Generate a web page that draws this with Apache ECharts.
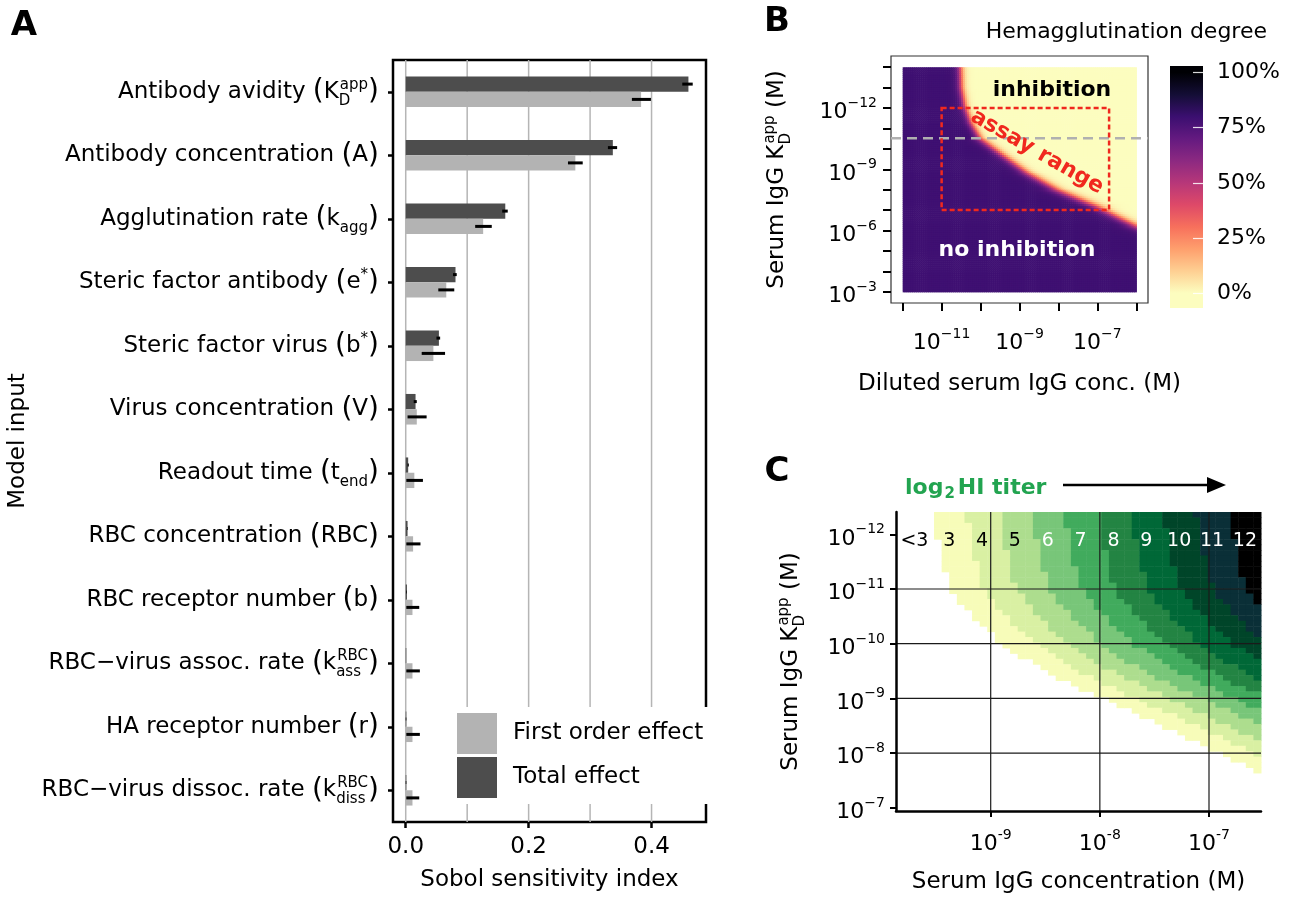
<!DOCTYPE html>
<html>
<head>
<meta charset="utf-8">
<title>Sobol sensitivity and hemagglutination inhibition</title>
<script src="https://cdn.jsdelivr.net/npm/echarts@6.0.0/dist/echarts.min.js"></script>
<style>
html,body{margin:0;padding:0;background:#fff;}
#chart{width:1301px;height:899px;}
</style>
</head>
<body>
<div id="chart"></div>
<script>
const FONT = 'DejaVu Sans';

// ---------------- Panel A: Sobol sensitivity indices ----------------
const categories = ['Antibody avidity', 'Antibody concentration', 'Agglutination rate', 'Steric factor antibody',
  'Steric factor virus', 'Virus concentration', 'Readout time', 'RBC concentration', 'RBC receptor number',
  'RBC\u2212virus assoc. rate', 'HA receptor number', 'RBC\u2212virus dissoc. rate'];
const symbolBase = ['K', 'A', 'k', 'e', 'b', 'V', 't', 'RBC', 'b', 'k', 'r', 'k'];
const symbolSub  = ['D', '', 'agg', '', '', '', 'end', '', '', 'ass', '', 'diss'];
const symbolSup  = ['app', '', '', '*', '*', '', '', '', '', 'RBC', '', 'RBC'];
const firstOrder    = [0.383, 0.276, 0.126, 0.066, 0.045, 0.018, 0.014, 0.012, 0.011, 0.011, 0.011, 0.011];
const firstOrderLo  = [0.368, 0.264, 0.113, 0.053, 0.026, 0.003, 0.001, 0.001, 0.001, 0.001, 0.001, 0.001];
const firstOrderHi  = [0.399, 0.288, 0.140, 0.079, 0.064, 0.034, 0.028, 0.024, 0.022, 0.023, 0.023, 0.022];
const totalEffect   = [0.460, 0.337, 0.162, 0.081, 0.054, 0.016, 0.004, 0.003, 0.002, 0.001, 0.001, 0.001];
const totalEffectLo = [0.450, 0.329, 0.157, 0.077, 0.050, 0.013, 0.003, 0.002, 0.001, 0.001, 0.000, 0.000];
const totalEffectHi = [0.467, 0.344, 0.166, 0.083, 0.056, 0.018, 0.005, 0.003, 0.002, 0.001, 0.001, 0.001];
const sobolGridValues = [0, 0.1, 0.2, 0.3, 0.4];
const sobolTickValues = [0, 0.2, 0.4];

// ---------------- Panel B: hemagglutination degree map ----------------
// 50 % contour: log10 Kd(app) [M] -> log10 diluted serum IgG conc [M]
const hemaKDLog10       = [-14, -13, -12.1, -11.3, -10.5, -9.65, -8.83, -8.0, -7.18, -6.53, -6.2, -5.9];
const hemaHalfConcLog10 = [-10.52, -10.5, -10.41, -10.26, -10.01, -9.41, -8.82, -8.05, -7.03, -6.36, -6.0, -5.6];
const hemaNoInhibition = 79;            // % hemagglutination left of the contour
const assayRangeConc = [1e-11, 2e-7];   // M
const assayRangeKD   = [1e-12, 1e-7];   // M
const referenceKD    = 3e-11;           // M (dashed grey line)
const bConcTickExp   = [-12, -11, -10, -9, -8, -7, -6];
const bConcLabelExp  = [-11, -9, -7];
const bKDTickExp     = [-14, -13, -12, -11, -10, -9, -8, -7, -6, -5, -4, -3];
const bKDLabelExp    = [-12, -9, -6, -3];
const hemaTicks      = [0, 25, 50, 75, 100];
const magmaReversed  = ['#fcfdbf', '#fecf92', '#fe9f6d', '#f7705c', '#de4968', '#b73779', '#8c2981', '#641a80', '#3b0f70', '#140e36', '#000004'];

// ---------------- Panel C: log2 HI titer map ----------------
const titerLabels = ['<3', '3', '4', '5', '6', '7', '8', '9', '10', '11', '12'];
const titerLevels = [3, 4, 5, 6, 7, 8, 9, 10, 11, 12];
const titerColors = ['#f7fcb9', '#d9f0a3', '#addd8e', '#78c679', '#41ab5d', '#238443', '#006837', '#004529', '#0a2f37', '#000000'];
// onset of titer 3: log10 Kd(app) [M] -> log10 serum IgG conc [M]
const titerKDLog10     = [-12.4, -11.5, -11, -10.62, -10.32, -10, -9.7, -9.39, -9, -8.5, -8, -7.65, -7];
const titer3ConcLog10  = [-9.53, -9.44, -9.37, -9.22, -9.07, -8.90, -8.67, -8.40, -7.97, -7.43, -6.90, -6.52, -5.80];
const titerStepLog10   = 0.301;   // one two-fold dilution
const cConcTickExp = [-9, -8, -7];
const cKDTickExp   = [-12, -11, -10, -9, -8, -7];
const cGridConcExp = [-9, -8, -7];
const cGridKDExp   = [-11, -10, -9, -8];

// ---------------- helpers ----------------
function interp(xs, ys, v) {
  const n = xs.length;
  if (v <= xs[0]) return ys[0] + (v - xs[0]) * (ys[1] - ys[0]) / (xs[1] - xs[0]);
  for (let i = 1; i < n; i++) {
    if (v <= xs[i]) { const t = (v - xs[i - 1]) / (xs[i] - xs[i - 1]); return ys[i - 1] + t * (ys[i] - ys[i - 1]); }
  }
  return ys[n - 1] + (v - xs[n - 1]) * (ys[n - 1] - ys[n - 2]) / (xs[n - 1] - xs[n - 2]);
}

// axis ranges (log10 units)
const bX = [-12.3, -5.7], bY = [-14.55, -2.45];
const cX = [-9.8676, -6.5236], cY = [-12.408, -6.94];
const cbRange = [-6.8, 103];

// Panel B cells
const dxB = 0.05, dyB = 0.1;
const bCells = [];
for (let yi = 0; yi < 110; yi++) {
  const y = -14 + dyB * (yi + 0.5);
  const bx = interp(hemaKDLog10, hemaHalfConcLog10, y);
  const slope = (interp(hemaKDLog10, hemaHalfConcLog10, y + 0.05) - interp(hemaKDLog10, hemaHalfConcLog10, y - 0.05)) / 0.1;
  const sp = slope * (257 / 6.6) / (247 / 12.1);
  const w = 0.055 * Math.sqrt(1 + sp * sp);
  for (let xi = 0; xi < 120; xi++) {
    const x = -12 + dxB * (xi + 0.5);
    bCells.push([x, y, hemaNoInhibition / (1 + Math.exp((x - bx) / w))]);
  }
}

// Panel C cells
const nCx = 48, nCy = 55;
const dxC = (cX[1] - cX[0]) / nCx, dyC = (cY[1] - cY[0]) / nCy;
const cCells = [];
for (let yi = 0; yi < nCy; yi++) {
  const y = cY[0] + dyC * (yi + 0.5);
  const c3 = interp(titerKDLog10, titer3ConcLog10, y);
  for (let xi = 0; xi < nCx; xi++) {
    const x = cX[0] + dxC * (xi + 0.5);
    if (x < c3) continue;
    const lvl = Math.min(12, 3 + Math.floor((x - c3) / titerStepLog10));
    cCells.push([x, y, lvl]);
  }
}
const c3Top = interp(titerKDLog10, titer3ConcLog10, cY[0]);
const titerLabelY = -11.88;
const titerLabelData = titerLabels.map((t, i) => i === 0
  ? [(cX[0] + c3Top) / 2, titerLabelY, 0]
  : [c3Top + (i - 0.5) * titerStepLog10, titerLabelY, i]);

// Panel A error bars (total effect bar above, first order bar below the tick)
const BAR_W = 15.3;
const errData = [];
categories.forEach((c, i) => {
  errData.push([i, firstOrderLo[i], firstOrderHi[i], 1]);
  errData.push([i, totalEffectLo[i], totalEffectHi[i], -1]);
});

// ---------------- text styles ----------------
function catLabel(i) {
  let s = '{t|' + categories[i] + ' }{p|(}{t|' + symbolBase[i] + '}';
  if (symbolSub[i] && symbolSup[i]) s += '{sbz|' + symbolSub[i] + '}{sp|' + symbolSup[i] + '}';
  else if (symbolSub[i]) s += '{sb|' + symbolSub[i] + '}';
  else if (symbolSup[i]) s += '{sp|' + symbolSup[i] + '}';
  return s + '{p|)}';
}
const catRich = {
  t:   {fontSize: 23, fontFamily: FONT, color: '#000', align: 'left'},
  p:   {fontSize: 28, fontFamily: FONT, color: '#000', align: 'left'},
  sb:  {fontSize: 15, fontFamily: FONT, color: '#000', align: 'left', padding: [18, 0, 0, 0]},
  sbz: {fontSize: 15, fontFamily: FONT, color: '#000', align: 'left', padding: [18, 0, 0, 0], width: 1},
  sp:  {fontSize: 15, fontFamily: FONT, color: '#000', align: 'left', padding: [0, 0, 14, 0]}
};
const expRich = {
  b: {fontSize: 22, fontFamily: FONT, color: '#000', padding: [9, 0, 0, 0]},
  s: {fontSize: 14, fontFamily: FONT, color: '#000', padding: [0, 0, 9, 0]}
};
const expFmt = (minus) => (v) => '{b|10}{s|' + (v < 0 ? minus : '') + Math.abs(Math.round(v)) + '}';
const kdName = '{t|Serum IgG K}{sbz|D}{sp|app}{t| (M)}';
const nameStyle = {fontSize: 23, fontFamily: FONT, color: '#000'};
const kdNameStyle = {fontSize: 23, fontFamily: FONT, color: '#000', rich: catRich};

const blackTick = (len, w) => ({show: true, length: len, lineStyle: {color: '#000', width: w}});

const option = {
  animation: false,
  backgroundColor: '#fff',
  textStyle: {fontFamily: FONT, color: '#000'},
  grid: [
    {left: 393, top: 60, width: 313, height: 762, show: true, borderColor: '#000', borderWidth: 2.5, backgroundColor: 'rgba(0,0,0,0)', containLabel: false, outerBoundsMode: 'none'},
    {left: 891, top: 56, width: 257, height: 247, show: true, borderColor: '#333', borderWidth: 1.2, backgroundColor: 'rgba(0,0,0,0)', containLabel: false, outerBoundsMode: 'none'},
    {left: 1170, top: 66, width: 33, height: 242, show: false, containLabel: false, outerBoundsMode: 'none'},
    {left: 896, top: 512, width: 365, height: 299, show: false, containLabel: false, outerBoundsMode: 'none'}
  ],
  xAxis: [
    {gridIndex: 0, type: 'value', min: -0.0207, max: 0.4886,
      axisLine: {show: false, onZero: false}, splitLine: {show: false},
      axisTick: Object.assign(blackTick(6, 2.5), {customValues: sobolTickValues}),
      axisLabel: {customValues: sobolTickValues, formatter: v => v.toFixed(1), fontSize: 23, fontFamily: FONT, color: '#000', margin: 14},
      name: 'Sobol sensitivity index', nameLocation: 'middle', nameGap: 47, nameTextStyle: nameStyle},
    {gridIndex: 1, type: 'value', min: bX[0], max: bX[1],
      axisLine: {show: false, onZero: false}, splitLine: {show: false},
      axisTick: Object.assign(blackTick(8, 2), {customValues: bConcTickExp}),
      axisLabel: {customValues: bConcLabelExp, formatter: expFmt('\u2212'), rich: expRich, margin: 20},
      name: 'Diluted serum IgG conc. (M)', nameLocation: 'middle', nameGap: 70, nameTextStyle: nameStyle},
    {gridIndex: 2, type: 'value', min: 0, max: 1, show: false},
    {gridIndex: 3, type: 'value', min: cX[0], max: cX[1], z: 10,
      axisLine: {show: true, onZero: false, lineStyle: {color: '#000', width: 2.5}}, splitLine: {show: false},
      axisTick: Object.assign(blackTick(6, 2), {customValues: cConcTickExp}),
      axisLabel: {customValues: cConcTickExp, formatter: expFmt('-'), rich: expRich, margin: 13},
      name: 'Serum IgG concentration (M)', nameLocation: 'middle', nameGap: 60, nameTextStyle: nameStyle}
  ],
  yAxis: [
    {gridIndex: 0, type: 'category', data: categories, inverse: true,
      axisLine: {show: false, onZero: false},
      axisTick: Object.assign(blackTick(5, 2.5), {alignWithLabel: true, interval: 0}),
      axisLabel: {interval: 0, margin: 14, formatter: (v, i) => catLabel(i), rich: catRich},
      name: 'Model input', nameLocation: 'middle', nameRotate: 90, nameGap: 363, nameTextStyle: nameStyle},
    {gridIndex: 1, type: 'value', inverse: true, min: bY[0], max: bY[1],
      axisLine: {show: false, onZero: false}, splitLine: {show: false},
      axisTick: Object.assign(blackTick(8, 2), {customValues: bKDTickExp}),
      axisLabel: {customValues: bKDLabelExp, formatter: expFmt('\u2212'), rich: expRich, margin: 14},
      name: kdName, nameLocation: 'middle', nameRotate: 90, nameGap: 97, nameTextStyle: kdNameStyle},
    {gridIndex: 2, type: 'value', position: 'right', min: cbRange[0], max: cbRange[1], z: 10,
      axisLine: {show: false, onZero: false}, splitLine: {show: false},
      axisTick: {show: true, inside: true, length: 10, customValues: hemaTicks, lineStyle: {color: 'rgba(255,255,255,0.85)', width: 1.2}},
      axisLabel: {customValues: hemaTicks, formatter: '{value}%', fontSize: 22, fontFamily: FONT, color: '#000', margin: 14}},
    {gridIndex: 3, type: 'value', inverse: true, min: cY[0], max: cY[1], z: 10,
      axisLine: {show: true, onZero: false, lineStyle: {color: '#000', width: 2.5}}, splitLine: {show: false},
      axisTick: Object.assign(blackTick(6, 2), {customValues: cKDTickExp}),
      axisLabel: {customValues: cKDTickExp, formatter: expFmt('\u2212'), rich: expRich, margin: 11},
      name: kdName, nameLocation: 'middle', nameRotate: 90, nameGap: 88, nameTextStyle: kdNameStyle}
  ],
  visualMap: [
    {type: 'continuous', show: false, seriesIndex: 4, dimension: 2, min: 0, max: 100, inRange: {color: magmaReversed}},
    {type: 'piecewise', show: false, seriesIndex: 8, dimension: 2,
      pieces: titerLevels.map((lv, i) => ({value: lv, color: titerColors[i]}))}
  ],
  legend: {
    data: ['First order effect', 'Total effect'], orient: 'vertical', left: 452, top: 707,
    itemWidth: 40, itemHeight: 41, itemGap: 3, icon: 'rect', selectedMode: false,
    backgroundColor: '#fff', padding: [6, 5, 6, 5],
    textStyle: {fontSize: 23, fontFamily: FONT, color: '#000', padding: [0, 0, 0, 11]}
  },
  series: [
    {type: 'bar', name: 'Total effect', xAxisIndex: 0, yAxisIndex: 0, data: totalEffect,
      barWidth: BAR_W, barGap: '0%', itemStyle: {color: '#4d4d4d'}, z: 2, silent: true},
    {type: 'bar', name: 'First order effect', xAxisIndex: 0, yAxisIndex: 0, data: firstOrder,
      barWidth: BAR_W, barGap: '0%', itemStyle: {color: '#b3b3b3'}, z: 2, silent: true},
    {type: 'custom', name: 'gridA', xAxisIndex: 0, yAxisIndex: 0, z: 1, silent: true,
      data: sobolGridValues.map(v => [v, 0]), encode: {x: 0, y: 1},
      renderItem: (params, api) => {
        const cs = params.coordSys; const x = api.coord([api.value(0), 0])[0];
        return {type: 'line', shape: {x1: x, y1: cs.y, x2: x, y2: cs.y + cs.height}, style: {stroke: '#b5b5b5', lineWidth: 1.5}};
      }},
    {type: 'custom', name: 'errA', xAxisIndex: 0, yAxisIndex: 0, z: 3, silent: true,
      data: errData, encode: {x: [1, 2], y: 0},
      renderItem: (params, api) => {
        const i = api.value(0), side = api.value(3);
        const p1 = api.coord([api.value(1), i]), p2 = api.coord([api.value(2), i]);
        const off = side * BAR_W / 2;
        return {type: 'line', shape: {x1: p1[0], y1: p1[1] + off, x2: p2[0], y2: p2[1] + off}, style: {stroke: '#000', lineWidth: 3}};
      }},
    {type: 'custom', name: 'heatB', xAxisIndex: 1, yAxisIndex: 1, z: 2, silent: true, progressive: 0,
      data: bCells, encode: {x: 0, y: 1},
      renderItem: (params, api) => {
        const x = api.value(0), y = api.value(1);
        const a = api.coord([x - dxB / 2, y - dyB / 2]), b = api.coord([x + dxB / 2, y + dyB / 2]);
        return {type: 'rect', shape: {x: Math.min(a[0], b[0]), y: Math.min(a[1], b[1]), width: Math.abs(b[0] - a[0]) + 0.6, height: Math.abs(b[1] - a[1]) + 0.6},
          style: {fill: api.visual('color')}};
      }},
    {type: 'custom', name: 'assayB', xAxisIndex: 1, yAxisIndex: 1, z: 5, silent: true,
      data: [[Math.log10(assayRangeConc[0]), Math.log10(assayRangeKD[0]), Math.log10(assayRangeConc[1]), Math.log10(assayRangeKD[1])]],
      encode: {x: [0, 2], y: [1, 3]},
      renderItem: (params, api) => {
        const a = api.coord([api.value(0), api.value(1)]), b = api.coord([api.value(2), api.value(3)]);
        return {type: 'rect', shape: {x: Math.min(a[0], b[0]), y: Math.min(a[1], b[1]), width: Math.abs(b[0] - a[0]), height: Math.abs(b[1] - a[1])},
          style: {fill: 'none', stroke: '#f0281e', lineWidth: 2.5, lineDash: [5, 3]}};
      }},
    {type: 'custom', name: 'refB', xAxisIndex: 1, yAxisIndex: 1, z: 4, silent: true,
      data: [[-9, Math.log10(referenceKD)]], encode: {x: 0, y: 1},
      renderItem: (params, api) => {
        const cs = params.coordSys; const y = api.coord([api.value(0), api.value(1)])[1];
        return {type: 'line', shape: {x1: cs.x, y1: y, x2: cs.x + cs.width, y2: y}, style: {stroke: '#b0b0b0', lineWidth: 2.5, lineDash: [10, 6]}};
      }},
    {type: 'custom', name: 'colorbar', xAxisIndex: 2, yAxisIndex: 2, z: 2, silent: true,
      data: [[0.5, 50]], encode: {x: 0, y: 1},
      renderItem: (params, api) => {
        const cs = params.coordSys;
        const span = cbRange[1] - cbRange[0];
        const stops = [{offset: 0, color: magmaReversed[0]}];
        magmaReversed.forEach((c, i) => stops.push({offset: (i * 10 - cbRange[0]) / span, color: c}));
        stops.push({offset: 1, color: magmaReversed[magmaReversed.length - 1]});
        return {type: 'rect', shape: {x: cs.x, y: cs.y, width: cs.width, height: cs.height},
          style: {fill: {type: 'linear', x: 0, y: 1, x2: 0, y2: 0, colorStops: stops, global: false}}};
      }},
    {type: 'custom', name: 'heatC', xAxisIndex: 3, yAxisIndex: 3, z: 2, silent: true, progressive: 0,
      data: cCells, encode: {x: 0, y: 1},
      renderItem: (params, api) => {
        const x = api.value(0), y = api.value(1);
        const a = api.coord([x - dxC / 2, y - dyC / 2]), b = api.coord([x + dxC / 2, y + dyC / 2]);
        return {type: 'rect', shape: {x: Math.min(a[0], b[0]), y: Math.min(a[1], b[1]), width: Math.abs(b[0] - a[0]) + 0.5, height: Math.abs(b[1] - a[1]) + 0.5},
          style: {fill: api.visual('color')}};
      }},
    {type: 'custom', name: 'gridCx', xAxisIndex: 3, yAxisIndex: 3, z: 4, silent: true,
      data: cGridConcExp.map(v => [v, -10]), encode: {x: 0, y: 1},
      renderItem: (params, api) => {
        const cs = params.coordSys; const x = api.coord([api.value(0), api.value(1)])[0];
        return {type: 'line', shape: {x1: x, y1: cs.y, x2: x, y2: cs.y + cs.height}, style: {stroke: '#1a1a1a', lineWidth: 1.2}};
      }},
    {type: 'custom', name: 'gridCy', xAxisIndex: 3, yAxisIndex: 3, z: 4, silent: true,
      data: cGridKDExp.map(v => [-8, v]), encode: {x: 0, y: 1},
      renderItem: (params, api) => {
        const cs = params.coordSys; const y = api.coord([api.value(0), api.value(1)])[1];
        return {type: 'line', shape: {x1: cs.x, y1: y, x2: cs.x + cs.width, y2: y}, style: {stroke: '#1a1a1a', lineWidth: 1.2}};
      }},
    {type: 'custom', name: 'titerLabels', xAxisIndex: 3, yAxisIndex: 3, z: 6, silent: true,
      data: titerLabelData, encode: {x: 0, y: 1},
      renderItem: (params, api) => {
        const p = api.coord([api.value(0), api.value(1)]); const i = api.value(2);
        return {type: 'text', x: p[0], y: p[1], style: {text: titerLabels[i], fontSize: 19, fontFamily: FONT,
          fill: i >= 4 ? '#ffffff' : '#000000', align: 'center', verticalAlign: 'middle'}};
      }}
  ],
  graphic: [
    {type: 'text', x: 24, y: 26, z: 100, style: {text: 'A', fontSize: 34, fontWeight: 'bold', fontFamily: FONT, fill: '#000', align: 'center', verticalAlign: 'middle'}},
    {type: 'text', x: 777, y: 22, z: 100, style: {text: 'B', fontSize: 34, fontWeight: 'bold', fontFamily: FONT, fill: '#000', align: 'center', verticalAlign: 'middle'}},
    {type: 'text', x: 777, y: 472, z: 100, style: {text: 'C', fontSize: 34, fontWeight: 'bold', fontFamily: FONT, fill: '#000', align: 'center', verticalAlign: 'middle'}},
    {type: 'text', x: 1267, y: 32, z: 100, style: {text: 'Hemagglutination degree', fontSize: 22, fontFamily: FONT, fill: '#000', align: 'right', verticalAlign: 'middle'}},
    {type: 'text', x: 1052, y: 90, z: 100, style: {text: 'inhibition', fontSize: 22, fontWeight: 'bold', fontFamily: FONT, fill: '#000', align: 'center', verticalAlign: 'middle'}},
    {type: 'text', x: 1017, y: 250, z: 100, style: {text: 'no inhibition', fontSize: 22, fontWeight: 'bold', fontFamily: FONT, fill: '#fff', align: 'center', verticalAlign: 'middle'}},
    {type: 'text', x: 1037, y: 152, z: 100, rotation: -0.52, style: {text: 'assay range', fontSize: 22, fontWeight: 'bold', fontFamily: FONT, fill: '#f0281e', align: 'center', verticalAlign: 'middle'}},
    {type: 'text', x: 905, y: 488, z: 100, style: {text: '{g|log}{s|2}{g|HI titer}', align: 'left', verticalAlign: 'middle',
      rich: {g: {fontSize: 22, fontWeight: 'bold', fontFamily: FONT, fill: '#22a450'},
             s: {fontSize: 15, fontWeight: 'bold', fontFamily: FONT, fill: '#22a450', padding: [12, 3, 0, 1]}}}},
    {type: 'line', z: 100, shape: {x1: 1063, y1: 485, x2: 1210, y2: 485}, style: {stroke: '#000', lineWidth: 2.5}},
    {type: 'polygon', z: 100, shape: {points: [[1226, 485], [1207, 477], [1207, 493]]}, style: {fill: '#000'}}
  ]
};

const chart = echarts.init(document.getElementById('chart'), null, {renderer: 'canvas', width: 1301, height: 899});
chart.setOption(option);
</script>
</body>
</html>
